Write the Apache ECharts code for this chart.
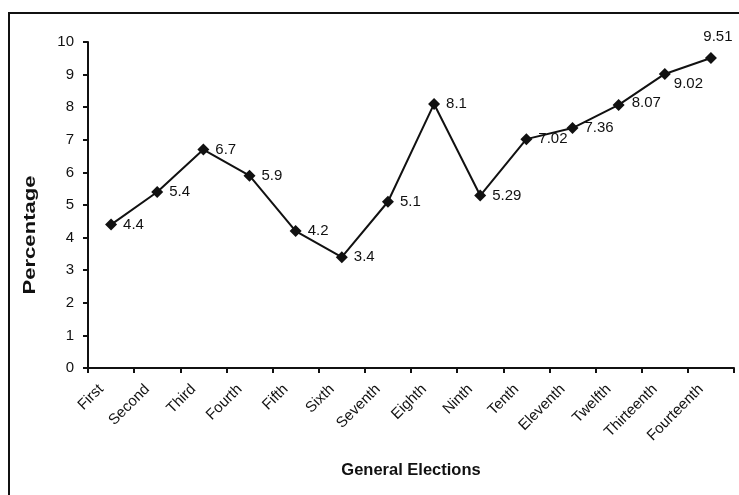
<!DOCTYPE html>
<html>
<head>
<meta charset="utf-8">
<script src="https://cdn.jsdelivr.net/npm/echarts@6/dist/echarts.min.js"></script>
<style>
  html, body { margin: 0; padding: 0; background: #fff; }
  #chart { width: 739px; height: 495px; }
</style>
</head>
<body>
<div id="chart"></div>
<script>
// Vote share by general election
const elections = ['First', 'Second', 'Third', 'Fourth', 'Fifth', 'Sixth', 'Seventh',
  'Eighth', 'Ninth', 'Tenth', 'Eleventh', 'Twelfth', 'Thirteenth', 'Fourteenth'];
const percentage = [4.4, 5.4, 6.7, 5.9, 4.2, 3.4, 5.1, 8.1, 5.29, 7.02, 7.36, 8.07, 9.02, 9.51];
const yTicks = [0, 1, 2, 3, 4, 5, 6, 7, 8, 9, 10];

const FONT = 'Liberation Sans, Arial, sans-serif';
const INK = '#111';

// a few value labels sit off the plain right-hand spot
const labelTweaks = {
  11: { offset: [1, -2] },
  12: { offset: [-3, 10] },
  13: { position: 'top', offset: [7, -2] }
};

const points = percentage.map((v, i) => {
  const p = { value: v };
  if (labelTweaks[i]) p.label = labelTweaks[i];
  return p;
});

const chart = echarts.init(document.getElementById('chart'), null, { renderer: 'canvas' });
chart.setOption({
  animation: false,
  backgroundColor: '#fff',
  textStyle: { fontFamily: FONT },
  grid: { left: 88, right: 5, top: 42, bottom: 127 },
  graphic: [
    {
      type: 'rect',
      shape: { x: 9, y: 13, width: 760, height: 520 },
      style: { fill: 'none', stroke: INK, lineWidth: 2 },
      silent: true
    },
    {
      // vertical axis title, drawn a little wide along its length
      type: 'text',
      x: 30, y: 235,
      rotation: Math.PI / 2,
      scaleX: 1.3,
      scaleY: 1,
      style: {
        text: 'Percentage',
        fontFamily: FONT, fontWeight: 'bold', fontSize: 17,
        fill: INK, align: 'center', verticalAlign: 'middle'
      }
    }
  ],
  xAxis: {
    type: 'category',
    data: elections,
    boundaryGap: true,
    name: 'General Elections',
    nameLocation: 'middle',
    nameGap: 94,
    nameTextStyle: { fontFamily: FONT, fontWeight: 'bold', fontSize: 16.5, color: INK },
    axisLine: { lineStyle: { color: INK, width: 2 } },
    axisTick: { show: true, length: 5, lineStyle: { color: INK, width: 2 } },
    axisLabel: {
      rotate: 45, interval: 0, margin: 9,
      fontFamily: FONT, fontSize: 15, color: INK,
      padding: [0, 14, 0, 0]
    }
  },
  yAxis: {
    type: 'value',
    min: yTicks[0],
    max: yTicks[yTicks.length - 1],
    interval: 1,
    axisLine: { show: true, lineStyle: { color: INK, width: 2 } },
    axisTick: { show: true, length: 5, lineStyle: { color: INK, width: 2 } },
    splitLine: { show: false },
    axisLabel: { margin: 14, fontFamily: FONT, fontSize: 15, color: INK }
  },
  series: [{
    type: 'line',
    data: points,
    symbol: 'diamond',
    symbolSize: [12, 12],
    showAllSymbol: true,
    lineStyle: { color: INK, width: 2 },
    itemStyle: { color: INK },
    label: {
      show: true,
      position: 'right',
      distance: 6,
      fontFamily: FONT, fontSize: 15, color: INK
    }
  }]
});
</script>
</body>
</html>
